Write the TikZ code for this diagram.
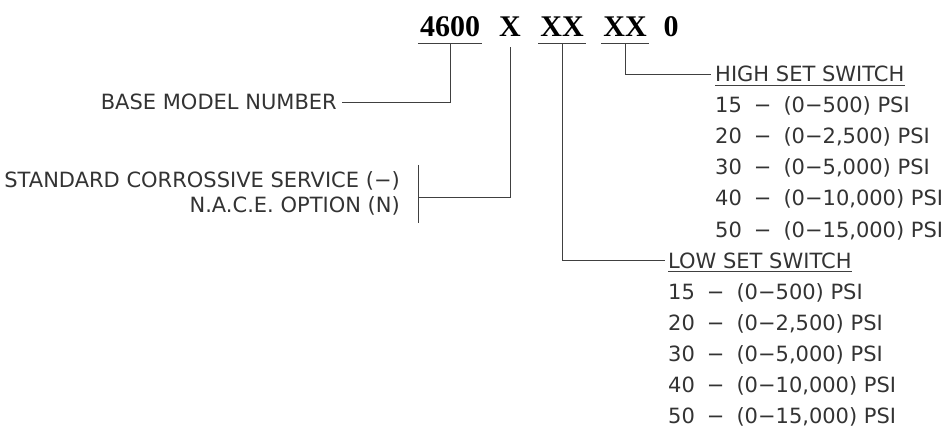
\documentclass[tikz,border=0pt]{standalone}
\usepackage{fontspec}
\setmainfont{DejaVu Sans}
\newfontfamily\titlefont{Liberation Serif}
\usetikzlibrary{positioning,calc}
\tikzset{
  code/.style={font=\titlefont\bfseries\fontsize{30}{30}\selectfont, anchor=base, inner xsep=2pt, inner ysep=0pt, text depth=6pt},
  lbl/.style={font=\fontsize{21}{21}\selectfont, text=black!80, inner sep=0pt},
  lead/.style={draw=black!75, line width=0.8pt},
}
\newcommand{\psirow}[2]{#1\hspace{12pt}−\hspace{12pt}(#2) PSI}

\begin{document}
\begin{tikzpicture}[x=1pt,y=-1pt]
\useasboundingbox (0,0) rectangle (944,430);

% model code
\node[code] (n4600) at (450,37) {4600};
\node[code] (nx) at (510,37) {X};
\node[code] (nxx1) at (562,37) {XX};
\node[code] (nxx2) at (625,37) {XX};
\node[code] (n0) at (671,37) {0};
\foreach \n in {n4600,nxx1,nxx2}
    \draw[lead] (\n.south west) -- (\n.south east);

% left side
\node[lbl, anchor=base east] (base) at (337,110) {BASE MODEL NUMBER};
\node[lbl, anchor=base east] (std) at (400,188) {STANDARD CORROSSIVE SERVICE (−)};
\node[lbl, anchor=base east] (nace) at (400,213) {N.A.C.E. OPTION (N)};
\coordinate (bartop) at (418,165);
\coordinate (barbot) at (418,223);
\coordinate (barmid) at (418,197);

% high set switch
\node[lbl, anchor=base west] (high) at (715,82) {HIGH SET SWITCH};
\draw[lead] ([yshift=-3pt]high.base west) -- ([yshift=-3pt]high.base east);
\foreach \v/\r [count=\i] in {15/{0−500}, 20/{0−2,500}, 30/{0−5,000}, 40/{0−10,000}, 50/{0−15,000}}
    \node[lbl, anchor=base west] (hi\i) at (715,82+31*\i) {\psirow{\v}{\r}};

% low set switch
\node[lbl, anchor=base west] (low) at (668,268) {LOW SET SWITCH};
\draw[lead] ([yshift=-3pt]low.base west) -- ([yshift=-3pt]low.base east);
\foreach \v/\r [count=\i] in {15/{0−500}, 20/{0−2,500}, 30/{0−5,000}, 40/{0−10,000}, 50/{0−15,000}}
    \node[lbl, anchor=base west] (lo\i) at (668,268+31*\i) {\psirow{\v}{\r}};

% leaders
\draw[lead] (n4600.south) |- ([xshift=5pt]base.east);
\draw[lead] ([yshift=-4pt]nx.south) |- (barmid);
\draw[lead] (bartop) -- (barbot);
\draw[lead] (nxx1.south) |- ([xshift=-3pt]low.west);
\draw[lead] (nxx2.south) |- ([xshift=-4pt]high.west);
\end{tikzpicture}
\end{document}
